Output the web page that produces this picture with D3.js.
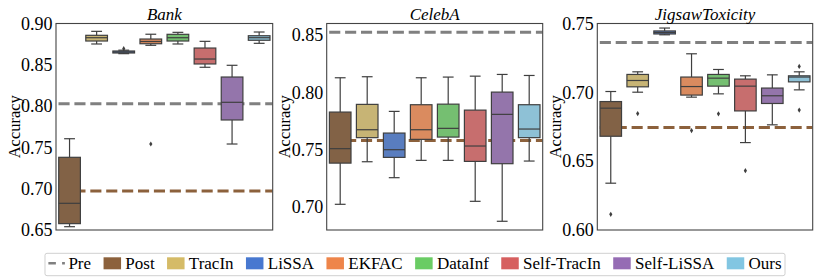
<!DOCTYPE html>
<html>
<head>
<meta charset="utf-8">
<script src="https://cdn.jsdelivr.net/npm/d3@7"></script>
<style>
  html, body { margin: 0; padding: 0; background: #fff; }
  svg { display: block; }
  svg text { font-family: "Times New Roman", serif; }
</style>
</head>
<body>
<svg id="chart" width="830" height="278"></svg>
<script>
// ---------------- data ----------------
const methods = ["Post", "TracIn", "LiSSA", "EKFAC", "DataInf", "Self-TracIn", "Self-LiSSA", "Ours"];
const methodColors = ["#8c613c", "#d5bb67", "#4878d0", "#ee854a", "#6acc64", "#d65f5f", "#956cb4", "#82c6e2"];
const datasets = ["Bank", "CelebA", "JigsawToxicity"];

// [lower whisker, Q1, median, Q3, upper whisker]
const bankBoxes = [
  [0.6540, 0.6577, 0.6823, 0.7380, 0.7605],
  [0.8752, 0.8788, 0.8828, 0.8857, 0.8905],
  [0.8635, 0.8643, 0.8655, 0.8667, 0.8677],
  [0.8736, 0.8755, 0.8782, 0.8812, 0.8870],
  [0.8752, 0.8788, 0.8828, 0.8869, 0.8893],
  [0.8470, 0.8510, 0.8570, 0.8703, 0.8784],
  [0.7541, 0.7832, 0.8046, 0.8352, 0.8494],
  [0.8760, 0.8797, 0.8828, 0.8852, 0.8897]
];
const bankOutliers = [[], [], [0.8695], [0.7541], [], [], [], []];

const celebaBoxes = [
  [0.7024, 0.7383, 0.7509, 0.7828, 0.8127],
  [0.7395, 0.7605, 0.7674, 0.7895, 0.8136],
  [0.7256, 0.7433, 0.7500, 0.7645, 0.7834],
  [0.7407, 0.7590, 0.7674, 0.7892, 0.8127],
  [0.7407, 0.7610, 0.7686, 0.7897, 0.8133],
  [0.7050, 0.7398, 0.7532, 0.7845, 0.8141],
  [0.6876, 0.7378, 0.7808, 0.8002, 0.8156],
  [0.7401, 0.7605, 0.7680, 0.7892, 0.8147]
];
const celebaOutliers = [[], [], [], [], [], [], [], []];

const jigsawBoxes = [
  [0.6340, 0.6681, 0.6885, 0.6933, 0.7006],
  [0.7001, 0.7040, 0.7086, 0.7130, 0.7149],
  [0.7418, 0.7424, 0.7435, 0.7446, 0.7467],
  [0.6965, 0.6980, 0.7042, 0.7111, 0.7280],
  [0.6989, 0.7045, 0.7103, 0.7130, 0.7166],
  [0.6635, 0.6865, 0.7045, 0.7096, 0.7120],
  [0.6764, 0.6919, 0.6975, 0.7031, 0.7127],
  [0.7018, 0.7076, 0.7111, 0.7120, 0.7149]
];
const jigsawOutliers = [[0.6114], [0.6846], [], [0.6722], [0.6844], [0.6431], [], [0.7188, 0.6871]];

const preValues = [0.8029, 0.8524, 0.7362];
const postValues = [0.6972, 0.7581, 0.6744];

const bankTicks = [0.65, 0.70, 0.75, 0.80, 0.85, 0.90];
const celebaTicks = [0.70, 0.75, 0.80, 0.85];
const jigsawTicks = [0.60, 0.65, 0.70, 0.75];

const yDomains = [[0.65, 0.90], [0.68, 0.86], [0.60, 0.75]];

// ---------------- layout ----------------
const FONT = "'Times New Roman', serif";
const svg = d3.select("#chart");
const panelX = [[56, 272.7], [326.7, 542.7], [597.3, 812.7]];
const yTop = 23.5, yBottom = 230;
const lineGray = "#3f3f3f";
const preColor = "#808080";
const postLineColor = "#8c613c";

function desat(c, p) {
  const h = d3.hsl(c);
  h.s *= p;
  return h.formatHex();
}
const boxColors = methodColors.map(c => desat(c, 0.75));

const allBoxes = [bankBoxes, celebaBoxes, jigsawBoxes];
const allOutliers = [bankOutliers, celebaOutliers, jigsawOutliers];
const allTicks = [bankTicks, celebaTicks, jigsawTicks];

datasets.forEach((name, i) => {
  const [x0, x1] = panelX[i];
  const x = d3.scaleBand().domain(methods).range([x0, x1]).paddingInner(0).paddingOuter(0);
  const y = d3.scaleLinear().domain(yDomains[i]).range([yBottom, yTop]);
  const g = svg.append("g");

  // y axis labels (no tick marks)
  const axis = d3.axisLeft(y).tickValues(allTicks[i]).tickFormat(d3.format(".2f")).tickSize(0).tickPadding(3.5);
  const ag = g.append("g").attr("transform", `translate(${x0},0)`).call(axis);
  ag.attr("font-family", null).attr("font-size", null);
  ag.select(".domain").remove();
  ag.selectAll("text").attr("font-size", 18).attr("fill", "#000").style("font-family", FONT);

  // reference lines (behind boxes)
  const clipId = "clip" + i;
  svg.append("clipPath").attr("id", clipId).append("rect")
    .attr("x", x0).attr("y", yTop).attr("width", x1 - x0).attr("height", yBottom - yTop);
  const lines = g.append("g").attr("clip-path", `url(#${clipId})`);
  lines.append("line")
    .attr("x1", x0 + 2.5).attr("x2", x1).attr("y1", y(preValues[i])).attr("y2", y(preValues[i]))
    .attr("stroke", preColor).attr("stroke-width", 3).attr("stroke-dasharray", "11.1,4.8");
  lines.append("line")
    .attr("x1", x0 + 2.5).attr("x2", x1).attr("y1", y(postValues[i])).attr("y2", y(postValues[i]))
    .attr("stroke", postLineColor).attr("stroke-width", 3).attr("stroke-dasharray", "11.1,4.8");

  // boxes
  const bw = x.bandwidth() * 0.8;
  const boxes = allBoxes[i];
  methods.forEach((m, j) => {
    const [lo, q1, med, q3, hi] = boxes[j];
    const cx = x(m) + x.bandwidth() / 2;
    const bg = g.append("g");
    const capW = bw / 2;
    bg.append("line").attr("x1", cx).attr("x2", cx).attr("y1", y(q3)).attr("y2", y(hi))
      .attr("stroke", lineGray).attr("stroke-width", 1.2);
    bg.append("line").attr("x1", cx).attr("x2", cx).attr("y1", y(q1)).attr("y2", y(lo))
      .attr("stroke", lineGray).attr("stroke-width", 1.2);
    bg.append("line").attr("x1", cx - capW / 2).attr("x2", cx + capW / 2).attr("y1", y(hi)).attr("y2", y(hi))
      .attr("stroke", lineGray).attr("stroke-width", 1.2);
    bg.append("line").attr("x1", cx - capW / 2).attr("x2", cx + capW / 2).attr("y1", y(lo)).attr("y2", y(lo))
      .attr("stroke", lineGray).attr("stroke-width", 1.2);
    bg.append("rect").attr("x", cx - bw / 2).attr("width", bw)
      .attr("y", y(q3)).attr("height", Math.max(0.5, y(q1) - y(q3)))
      .attr("fill", boxColors[j]).attr("stroke", lineGray).attr("stroke-width", 1.2);
    bg.append("line").attr("x1", cx - bw / 2).attr("x2", cx + bw / 2).attr("y1", y(med)).attr("y2", y(med))
      .attr("stroke", lineGray).attr("stroke-width", 1.2);
    allOutliers[i][j].forEach(v => {
      const py = y(v);
      bg.append("path")
        .attr("d", `M${cx},${py - 2.6}L${cx + 1.6},${py}L${cx},${py + 2.6}L${cx - 1.6},${py}Z`)
        .attr("fill", lineGray);
    });
  });

  // frame
  g.append("rect").attr("x", x0).attr("y", yTop).attr("width", x1 - x0).attr("height", yBottom - yTop)
    .attr("fill", "none").attr("stroke", "#444").attr("stroke-width", 1.1);

  // title
  g.append("text").attr("x", (x0 + x1) / 2).attr("y", 20)
    .attr("text-anchor", "middle").attr("font-size", 17).attr("font-style", "italic")
    .text(name);

  // y label
  g.append("text")
    .attr("transform", `translate(${x0 - 36.5},${(yTop + yBottom) / 2}) rotate(-90)`)
    .attr("text-anchor", "middle").attr("font-size", 16.5)
    .text("Accuracy");
});

// ---------------- legend ----------------
const legendItems = ["Pre"].concat(methods);
const lg = svg.append("g");
const lgBox = lg.append("rect");
const items = lg.append("g");
let cursor = 0;
const baseY = 269.3;
legendItems.forEach((name, k) => {
  if (k === 0) {
    items.append("line").attr("x1", cursor).attr("x2", cursor + 16.5).attr("y1", 263.3).attr("y2", 263.3)
      .attr("stroke", preColor).attr("stroke-width", 2.5).attr("stroke-dasharray", "7.5,6.2");
    const t = items.append("text").attr("x", cursor + 20).attr("y", baseY).attr("font-size", 17).text(name);
    cursor += 20 + t.node().getComputedTextLength() + 12.5;
  } else {
    items.append("rect").attr("x", cursor).attr("y", 257.3).attr("width", 17.5).attr("height", 12)
      .attr("fill", methodColors[k - 1]);
    const t = items.append("text").attr("x", cursor + 21.8).attr("y", baseY).attr("font-size", 17).text(name);
    cursor += 21.8 + t.node().getComputedTextLength() + 12.4;
  }
});
const totalW = cursor - 12.4;
const startX = 415 - totalW / 2;
items.attr("transform", `translate(${startX},0)`);
lgBox.attr("x", startX - 3.4).attr("y", 253.3).attr("width", totalW + 6.8).attr("height", 22.4)
  .attr("rx", 2).attr("fill", "#fff").attr("stroke", "#d0d0d0").attr("stroke-width", 1);
</script>
</body>
</html>
